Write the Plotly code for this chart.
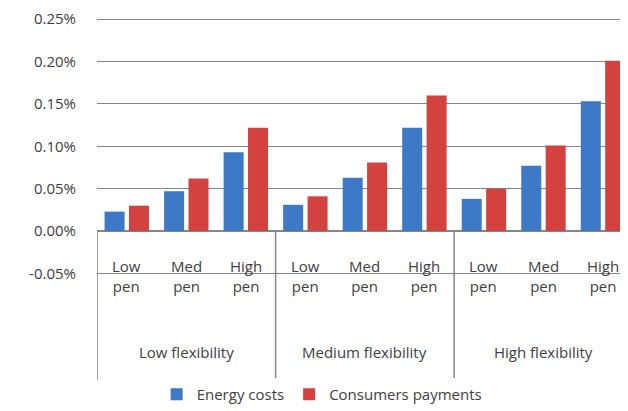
import plotly.graph_objects as go

# 数据
flex_groups = ["Low flexibility", "Medium flexibility", "High flexibility"]
pen_levels = ["Low<br>pen", "Med<br>pen", "High<br>pen"]
energy_costs = [0.023, 0.047, 0.093, 0.031, 0.063, 0.122, 0.038, 0.077, 0.153]
consumer_payments = [0.030, 0.062, 0.122, 0.041, 0.081, 0.160, 0.050, 0.101, 0.201]
y_ticks = [-0.05, 0.0, 0.05, 0.10, 0.15, 0.20, 0.25]

x_pos = list(range(len(energy_costs)))
font_family = "'Open Sans', sans-serif"
text_color = "#404040"
grid_color = "#868686"

fig = go.Figure()
fig.add_trace(go.Bar(x=x_pos, y=energy_costs, name="Energy costs",
                     marker=dict(color="#3d79c6", line_width=0)))
fig.add_trace(go.Bar(x=x_pos, y=consumer_payments, name="Consumers payments",
                     marker=dict(color="#d4423f", line_width=0)))

# 类别标签（画在零轴下方，跨过 -0.05% 网格线）
annotations = []
for i in x_pos:
    annotations.append(dict(
        x=i, y=-0.05, xref="x", yref="y", text=pen_levels[i % 3],
        showarrow=False, yshift=-2,
        font=dict(family=font_family, size=15, color=text_color),
    ))
for g, name in enumerate(flex_groups):
    annotations.append(dict(
        x=g * 3 + 1, y=-0.143, xref="x", yref="y", text=name,
        showarrow=False,
        font=dict(family=font_family, size=15, color=text_color),
    ))

# 分组竖线
shapes = []
for g in range(len(flex_groups)):
    shapes.append(dict(
        type="line", xref="x", yref="y",
        x0=g * 3 - 0.5, x1=g * 3 - 0.5, y0=0, y1=-0.1756,
        line=dict(color=grid_color, width=1.5),
    ))

# 页面 body 默认有 8px 边距，所以图本身小 8px
fig.update_layout(
    width=620, height=403,
    barmode="group", bargap=0.18, bargroupgap=0.18,
    plot_bgcolor="white", paper_bgcolor="white",
    margin=dict(l=89, r=0, t=7, b=28),
    font=dict(family=font_family, size=15, color=text_color),
    showlegend=True,
    legend=dict(orientation="h", x=0.424, xanchor="center", y=-0.04, yanchor="middle",
                font=dict(size=15, color=text_color), itemwidth=30),
    annotations=annotations,
    shapes=shapes,
)
fig.update_xaxes(range=[-0.5, 8.42], showticklabels=False, showgrid=False,
                 zeroline=False, showline=False, ticks="")
fig.update_yaxes(range=[-0.1756, 0.2525], tickmode="array", tickvals=y_ticks,
                 ticktext=[f"{v:.2f}%" for v in y_ticks], ticklabeloverflow="allow",
                 showgrid=True, gridcolor=grid_color, gridwidth=1.4,
                 zeroline=True, zerolinecolor=grid_color, zerolinewidth=1.5,
                 showline=False, ticks="outside", ticklen=17, tickcolor="white",
                 tickfont=dict(size=15, color=text_color))

fig.write_html("out.html")
